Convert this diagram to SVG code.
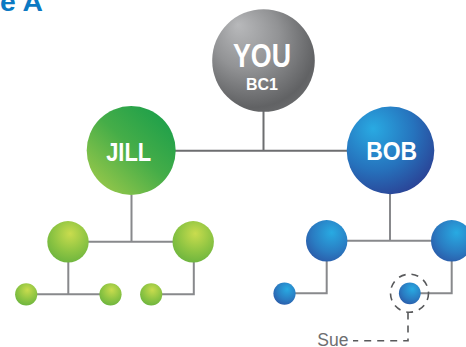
<svg xmlns="http://www.w3.org/2000/svg" width="466" height="347" viewBox="0 0 466 347">
<defs>
<radialGradient id="gYou" cx="0.42" cy="0.38" r="0.72" fx="0.25" fy="0.15">
<stop offset="0" stop-color="#b8b9bb"/>
<stop offset="0.45" stop-color="#929395"/>
<stop offset="0.85" stop-color="#616264"/>
<stop offset="1" stop-color="#6e6f71"/>
</radialGradient>
<linearGradient id="gJill" x1="0.15" y1="0.9" x2="0.85" y2="0.15">
<stop offset="0" stop-color="#92c64a"/>
<stop offset="0.55" stop-color="#45ad48"/>
<stop offset="1" stop-color="#22a14a"/>
</linearGradient>
<radialGradient id="gBob" cx="0.35" cy="0.3" r="0.8" fx="0.3" fy="0.25">
<stop offset="0" stop-color="#29aae2"/>
<stop offset="0.55" stop-color="#2673bd"/>
<stop offset="1" stop-color="#2b3d91"/>
</radialGradient>
<radialGradient id="gGreen" cx="0.55" cy="0.35" r="0.7" fx="0.55" fy="0.3">
<stop offset="0" stop-color="#c9dc4e"/>
<stop offset="0.6" stop-color="#8dc442"/>
<stop offset="1" stop-color="#6ab33e"/>
</radialGradient>
<radialGradient id="gBlue" cx="0.6" cy="0.35" r="0.75" fx="0.62" fy="0.3">
<stop offset="0" stop-color="#28aae2"/>
<stop offset="0.6" stop-color="#2a7cc2"/>
<stop offset="1" stop-color="#2b56a5"/>
</radialGradient>
</defs>
<style>
.ln{fill:none;stroke:#88898c;stroke-width:2}
.top{stroke:#6d6e70}
.dash{fill:none;stroke:#58595b;stroke-width:1.6;stroke-dasharray:7 6}
.lbl{font-family:"Liberation Sans",Arial,sans-serif;font-weight:bold;fill:#ffffff;text-anchor:middle}
.title{font-family:"Liberation Sans",Arial,sans-serif;font-weight:bold;fill:#0b79c3;font-size:25px}
.sue{font-family:"Liberation Sans",Arial,sans-serif;fill:#6d6e70;font-size:17.5px;text-anchor:end}
</style>
<rect width="466" height="347" fill="#ffffff"/>
<text class="title" x="0" y="11" textLength="43" lengthAdjust="spacingAndGlyphs">e A</text>
<g id="connectors">
<path class="ln top" d="M263.5 111V150.7M131 150.7H390.5"/>
<path class="ln" d="M131.5 195V241.7M68 241.7H193.5"/>
<path class="ln" d="M68.3 262V294.3M26 294.3H110.5"/>
<path class="ln" d="M193.8 262V294.3H151"/>
<path class="ln" d="M390 194V240.7M326.7 240.7H451.7"/>
<path class="ln" d="M326.7 261V293.3H284.5"/>
<path class="ln" d="M451.7 261V293.3H410"/>
<path class="dash" d="M408 312.5V340.7H353"/>
</g>
<g id="you">
<circle cx="263.5" cy="60.5" r="51.3" fill="url(#gYou)"/>
<text class="lbl" x="262" y="66.7" font-size="33.5" textLength="58" lengthAdjust="spacingAndGlyphs">YOU</text>
<text class="lbl" x="262" y="90" font-size="17" textLength="32" lengthAdjust="spacingAndGlyphs">BC1</text>
</g>
<g id="jill">
<circle cx="131.2" cy="150.5" r="44.5" fill="url(#gJill)"/>
<text class="lbl" x="128.7" y="161" font-size="26.5" textLength="45" lengthAdjust="spacingAndGlyphs">JILL</text>
</g>
<g id="bob">
<circle cx="390.5" cy="150.4" r="43.8" fill="url(#gBob)"/>
<text class="lbl" x="391.7" y="160.3" font-size="26.5" textLength="51" lengthAdjust="spacingAndGlyphs">BOB</text>
</g>
<g id="jill-child-1"><circle cx="68" cy="241.8" r="20.7" fill="url(#gGreen)"/></g>
<g id="jill-child-2"><circle cx="193.2" cy="241.8" r="20.7" fill="url(#gGreen)"/></g>
<g id="jill-gc-1"><circle cx="26.2" cy="294.3" r="11.1" fill="url(#gGreen)"/></g>
<g id="jill-gc-2"><circle cx="110.5" cy="294.3" r="11.1" fill="url(#gGreen)"/></g>
<g id="jill-gc-3"><circle cx="151.2" cy="294.3" r="11.1" fill="url(#gGreen)"/></g>
<g id="bob-child-1"><circle cx="326.7" cy="240.8" r="20.7" fill="url(#gBlue)"/></g>
<g id="bob-child-2"><circle cx="451.7" cy="240.8" r="20.7" fill="url(#gBlue)"/></g>
<g id="bob-gc-1"><circle cx="284.5" cy="293.6" r="11.1" fill="url(#gBlue)"/></g>
<g id="sue">
<circle cx="409.8" cy="293.3" r="10.9" fill="url(#gBlue)"/>
<circle class="dash" cx="409.5" cy="293.2" r="19" stroke-dasharray="7 5"/>
<text class="sue" x="348.5" y="345.5">Sue</text>
</g>
</svg>
